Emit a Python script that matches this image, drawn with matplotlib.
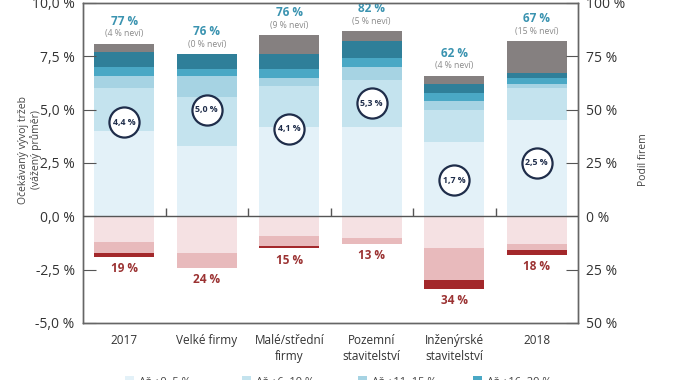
#!/usr/bin/env python3
import matplotlib
matplotlib.use("Agg")
import matplotlib.pyplot as plt
import numpy as np

# categories and data (share of firms, %)
categories = ["2017", "Velké firmy", "Malé/střední\nfirmy", "Pozemní\nstavitelství",
              "Inženýrské\nstavitelství", "2018"]
# positive expectations, stacked from bottom
pos_0_5 = [40, 33, 42, 42, 35, 45]
pos_6_10 = [20, 23, 19, 22, 15, 15]
pos_11_15 = [6, 10, 4, 6, 4, 2]
pos_16_20 = [4, 3, 4, 4, 4, 3]
pos_20_plus = [7, 7, 7, 8, 4, 2]
dont_know = [4, 0, 9, 5, 4, 15]
# negative expectations
neg_0_5 = [12, 17, 9, 10, 15, 13]
neg_6_10 = [5, 7, 5, 3, 15, 3]
neg_10_plus = [2, 0, 1, 0, 4, 2]
# labels
pos_share = ["77 %", "76 %", "76 %", "82 %", "62 %", "67 %"]
dk_share = ["(4 % neví)", "(0 % neví)", "(9 % neví)", "(5 % neví)", "(4 % neví)", "(15 % neví)"]
neg_share = ["19 %", "24 %", "15 %", "13 %", "34 %", "18 %"]
avg = [4.4, 5.0, 4.1, 5.3, 1.7, 2.5]
avg_labels = ["4,4 %", "5,0 %", "4,1 %", "5,3 %", "1,7 %", "2,5 %"]
legend_labels = ["Až +0–5 %", "Až +6–10 %", "Až +11–15 %", "Až +16–20 %"]

plt.rcParams['font.family'] = ['Liberation Sans Narrow', 'Open Sans', 'DejaVu Sans']

fig = plt.figure(figsize=(6.74, 3.80), dpi=100)
ax = fig.add_axes([83/674, (380-323)/380, 495/674, 320/380])
ax2 = ax.twinx()
ax.set_zorder(ax2.get_zorder() + 1)
ax.patch.set_visible(False)

x = np.arange(len(categories))
w = 0.73
pos_colors = ["#e3f1f8", "#c4e3ee", "#a6d3e3", "#4aa8c5", "#2f7f99", "#858080"]
neg_colors = ["#f5e1e3", "#e8babc", "#a3282b"]

bottom = np.zeros(len(x))
bars = []
for vals, c in zip([pos_0_5, pos_6_10, pos_11_15, pos_16_20, pos_20_plus, dont_know], pos_colors):
    b = ax2.bar(x, vals, w, bottom=bottom, color=c, linewidth=0)
    bars.append(b)
    bottom = bottom + np.array(vals)
top = bottom

nbottom = np.zeros(len(x))
for vals, c in zip([neg_0_5, neg_6_10, neg_10_plus], neg_colors):
    ax2.bar(x, -np.array(vals), w, bottom=-nbottom, color=c, linewidth=0)
    nbottom = nbottom + np.array(vals)

for i in x:
    ax2.text(i, top[i] + 10.5, pos_share[i], ha="center", va="center",
             fontsize=8.5, fontweight="bold", color="#3a93b0")
    ax2.text(i, top[i] + 4.5, dk_share[i], ha="center", va="center",
             fontsize=6.2, color="#8a8a8a")
    ax2.text(i, -nbottom[i] - 5.5, neg_share[i], ha="center", va="center",
             fontsize=8.5, fontweight="bold", color="#9b3232")

ax2.set_ylim(-50, 100)
ax2.set_yticks([100, 75, 50, 25, 0, -25, -50])
ax2.set_yticklabels(["100 %", "75 %", "50 %", "25 %", "0 %", "25 %", "50 %"])

# average circles on the left axis
ax.scatter(x, avg, s=470, facecolor="white", edgecolor="#1f2d4a", linewidth=1.6, zorder=5)
for i in x:
    ax.text(i, avg[i], avg_labels[i], ha="center", va="center", fontsize=6.3,
            fontweight="bold", color="#1f2d4a", zorder=6)

ax.set_xlim(-0.5, len(x) - 0.5)
ax.set_ylim(-5, 10)
ax.set_yticks([10, 7.5, 5, 2.5, 0, -2.5, -5])
ax.set_yticklabels(["10,0 %", "7,5 %", "5,0 %", "2,5 %", "0,0 %", "-2,5 %", "-5,0 %"])
ax.set_xticks(x)
ax.set_xticklabels(categories, fontsize=8.5, color="#333333", linespacing=1.3)
ax.tick_params(axis="x", length=0, pad=8)

# zero line with category separators
ax.axhline(0, color="#555555", linewidth=1.0, zorder=4)
ax.vlines(x[:-1] + 0.5, 0, 0.38, color="#555555", linewidth=1.0, zorder=4)

for a in (ax, ax2):
    for s in a.spines.values():
        s.set_color("#666666")
        s.set_linewidth(1.0)
ax.tick_params(axis="y", direction="in", length=9, color="#555555",
               labelsize=10, labelcolor="#333333", pad=6)
ax2.tick_params(axis="y", direction="in", length=9, color="#555555",
                labelsize=10, labelcolor="#333333", pad=6)

fig.text(30/674, 1 - 150/380, "Očekávaný vývoj tržeb\n(vážený průměr)", rotation=90,
         ha="center", va="center", fontsize=7.5, color="#444444", linespacing=1.2)
fig.text(643/674, 1 - 160/380, "Podíl firem", rotation=90, ha="center", va="center",
         fontsize=7.5, color="#444444")

# legend, mostly below the canvas edge; one small legend per entry
legend_x = [121, 238, 354, 469]
for b, lab, lx in zip(bars[:4], legend_labels, legend_x):
    leg = fig.legend([b], [lab], loc="upper left", bbox_to_anchor=(lx/674, 1 - 372/380),
                     frameon=False, fontsize=8, handlelength=0.8, handleheight=0.8,
                     handletextpad=0.4, borderaxespad=0, labelcolor="#444444")

fig.savefig("out.png", dpi=100)
